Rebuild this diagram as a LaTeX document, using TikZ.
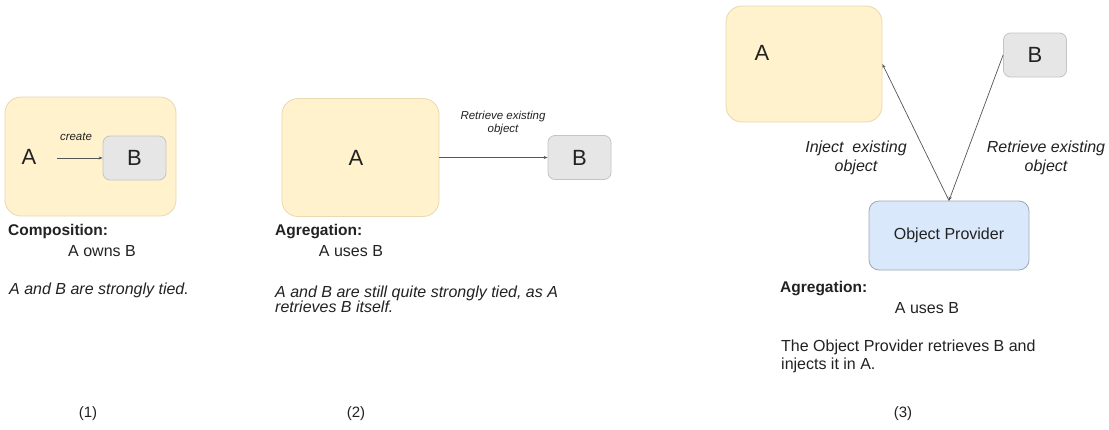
\documentclass[tikz,border=0pt]{standalone}
\usepackage{fontspec}
\setmainfont{Liberation Sans}
\usetikzlibrary{arrows.meta}
\definecolor{txt}{HTML}{222222}
\definecolor{yelfill}{HTML}{FFF2CC}
\definecolor{yeldraw}{HTML}{E8D9B0}
\definecolor{grayfill}{HTML}{E6E6E6}
\definecolor{graydraw}{HTML}{C4C4C4}
\definecolor{bluefill}{HTML}{DAE8FC}
\definecolor{bluedraw}{HTML}{9DA8B8}
\definecolor{linec}{HTML}{555555}
\tikzset{
  abox/.style={draw=yeldraw, fill=yelfill, rounded corners=16pt, line width=0.8pt, inner sep=0pt},
  bbox/.style={draw=graydraw, fill=grayfill, rounded corners=7pt, line width=0.8pt, minimum width=63pt, minimum height=44pt, inner sep=0pt, font=\fontsize{22}{24}\selectfont, text=txt},
  pbox/.style={draw=bluedraw, fill=bluefill, rounded corners=10pt, line width=0.8pt, minimum width=160pt, minimum height=69pt, inner sep=0pt, font=\fontsize{16}{18}\selectfont, text=txt},
  bigA/.style={font=\fontsize{22}{24}\selectfont, text=txt, inner sep=0pt},
  conn/.style={draw=linec, line width=0.7pt, -{Stealth[length=4pt,width=3pt]}},
  smalllab/.style={font=\itshape\fontsize{11.5}{12.5}\selectfont, text=txt, align=center, inner sep=0pt},
  midlab/.style={font=\itshape\fontsize{16}{19}\selectfont, text=txt, align=center, inner sep=0pt},
  head/.style={font=\bfseries\fontsize{15.5}{17}\selectfont, text=txt, anchor=west, inner sep=0pt},
  body/.style={font=\fontsize{16}{17}\selectfont, text=txt, inner sep=0pt},
  note/.style={font=\itshape\fontsize{16}{15}\selectfont, text=txt, anchor=north west, align=left, inner sep=0pt},
  plain/.style={font=\fontsize{16}{18}\selectfont, text=txt, anchor=north west, align=left, inner sep=0pt},
  num/.style={font=\fontsize{15}{17}\selectfont, text=txt, inner sep=0pt}
}
\begin{document}
\begin{tikzpicture}[x=1pt,y=-1pt]
\useasboundingbox[fill=white] (0,0) rectangle (1109,429);

% ---------- Panel 1 ----------
\node[abox, minimum width=171pt, minimum height=119pt] (a1) at (90.5,156.5) {};
\node[bigA] (a1t) at (29,157) {A};
\node[bbox] (b1) at (134.5,158) {B};
\coordinate (c1) at (57,158);
\draw[conn] (c1) -- (b1.west);
\node[smalllab] (l1) at (76,137) {create};
\node[head] (h1) at (8,231) {Composition:};
\node[body] (u1) at (102,251) {A owns B};
\node[note] (n1) at (9,283) {A and B are strongly tied.};
\node[num] (p1) at (88,414) {(1)};

% ---------- Panel 2 ----------
\node[abox, minimum width=157pt, minimum height=118pt] (a2) at (360.5,157.5) {};
\node[bigA] (a2t) at (356,158) {A};
\node[bbox] (b2) at (579.5,157.5) {B};
\draw[conn] (a2.east) -- (b2.west);
\node[smalllab] (l2) at (503,123) {Retrieve existing\\object};
\node[head] (h2) at (275,232) {Agregation:};
\node[body] (u2) at (351,251) {A uses B};
\node[note] (n2) at (275,286) {A and B are still quite strongly tied, as A\\retrieves B itself.};
\node[num] (p2) at (356,414) {(2)};

% ---------- Panel 3 ----------
\node[abox, minimum width=156pt, minimum height=116pt] (a3) at (804,64) {};
\node[bigA] (a3t) at (762,53) {A};
\node[bbox] (b3) at (1035,55) {B};
\node[pbox] (op) at (949,235.5) {Object Provider};
\draw[conn] (op.north) -- (a3.east);
\draw[conn] (b3.west) -- (op.north);
\node[midlab] (l3) at (856,158) {Inject\ \ existing\\object};
\node[midlab] (l4) at (1046,158) {Retrieve existing\\object};
\node[head] (h3) at (780,289) {Agregation:};
\node[body] (u3) at (927,308) {A uses B};
\node[plain] (n3) at (781,340) {The Object Provider retrieves B and\\injects it in A.};
\node[num] (p3) at (903,414) {(3)};
\end{tikzpicture}
\end{document}
